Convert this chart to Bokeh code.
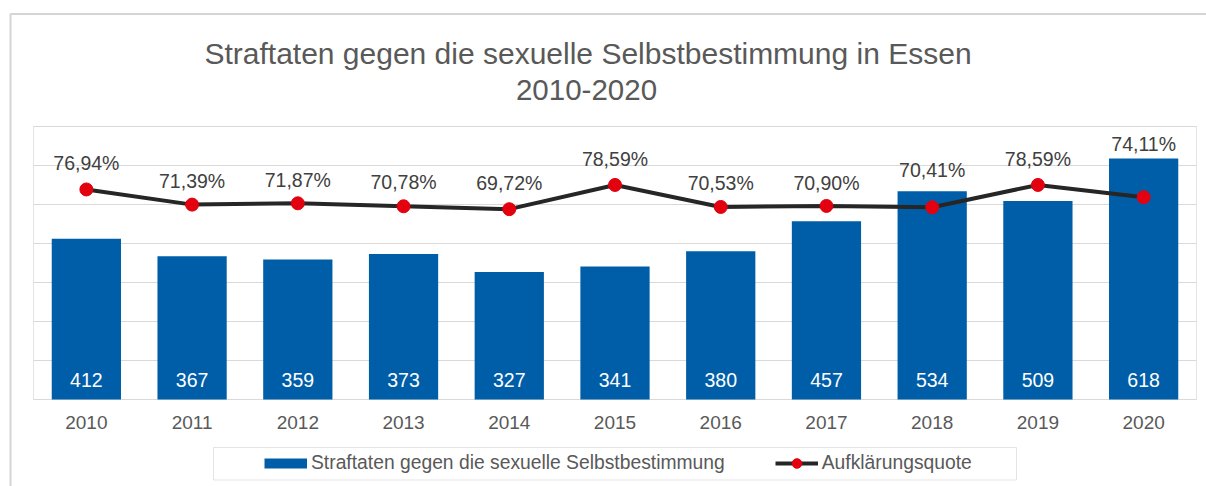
from bokeh.plotting import figure
from bokeh.models import (ColumnDataSource, Range1d, Label, Legend, LegendItem,
                          BoxAnnotation)
from bokeh.core.properties import value
from bokeh.embed import file_html
from bokeh.resources import INLINE

# ---- data ----
years = [2010, 2011, 2012, 2013, 2014, 2015, 2016, 2017, 2018, 2019, 2020]
cases = [412, 367, 359, 373, 327, 341, 380, 457, 534, 509, 618]
clearance = [76.94, 71.39, 71.87, 70.78, 69.72, 78.59, 70.53, 70.90, 70.41, 78.59, 74.11]
grid_ticks = [0, 100, 200, 300, 400, 500, 600, 700]
bar_name = "Straftaten gegen die sexuelle Selbstbestimmung"
line_name = "Aufklärungsquote"
title_1 = "Straftaten gegen die sexuelle Selbstbestimmung in Essen"
title_2 = "2010-2020"

# label nudges (pixels above point)
label_lift = [26, 24, 23, 24, 26, 26, 24, 23, 37, 26, 53]

FONT = "Liberation Sans"
BLUE = "#005EA8"
RED = "#E3000F"
NAN = float("nan")

W, H = 1206, 486
# plot area inside the canvas (pixels)
PL, PR, PT, PB = 33, 1196, 126, 399
n = len(years)
xu = (PR - PL) / n                      # px per year
x0, x1 = years[0] - 0.5, years[-1] + 0.5
ymax = grid_ticks[-1]
yu = (PB - PT) / ymax                   # px per case
pu = (PB - PT) / 100.0                  # px per percent

src = ColumnDataSource(dict(
    year=years,
    year_txt=[str(y) for y in years],
    cases=cases,
    case_txt=[str(c) for c in cases],
    pct=clearance,
    pct_txt=[f"{v:.2f}".replace(".", ",") + "%" for v in clearance],
    lift=[-l for l in label_lift],
))

p = figure(width=W, height=H,
           x_range=Range1d(x0 - PL / xu, x1 + (W - PR) / xu),
           y_range=Range1d(-(H - PB) / yu, ymax + PT / yu),
           output_backend="svg", toolbar_location=None,
           x_axis_location=None, y_axis_location=None,
           min_border=0, min_border_left=0, min_border_right=0,
           min_border_top=0, min_border_bottom=0)
p.extra_y_ranges = {"pct": Range1d(-(H - PB) / pu, 100 + PT / pu)}
p.grid.visible = False
p.outline_line_color = None
p.background_fill_color = "white"
p.border_fill_color = "white"

# plot area frame
p.add_layout(BoxAnnotation(left=x0, right=x1, bottom=0, top=ymax,
                           fill_alpha=0, line_color="#a6a6a6", line_width=1,
                           level="underlay"))

# horizontal gridlines
p.segment(x0=[x0] * len(grid_ticks), x1=[x1] * len(grid_ticks),
          y0=grid_ticks, y1=grid_ticks, line_color="#d9d9d9", line_width=1)

p.vbar(x="year", top="cases", width=0.655, source=src,
       fill_color=BLUE, line_color=None)

p.text(x="year", y=0, text="case_txt", source=src, y_offset=-20,
       text_align="center", text_baseline="middle", text_color="white",
       text_font=value(FONT), text_font_size="19.5px")

# category labels
p.text(x="year", y=0, text="year_txt", source=src, y_offset=23,
       text_align="center", text_baseline="middle", text_color="#595959",
       text_font=value(FONT), text_font_size="19px")

ln = p.line(x="year", y="pct", source=src, y_range_name="pct",
            line_color="#262626", line_width=4)
pts = p.scatter(x="year", y="pct", source=src, y_range_name="pct",
                size=13, fill_color=RED, line_color=RED)

p.text(x="year", y="pct", text="pct_txt", source=src, y_range_name="pct",
       y_offset="lift", text_align="center", text_baseline="middle",
       text_color="#404040", text_font=value(FONT), text_font_size="19.5px")

# legend proxy for the bar (thick line draws a flat rectangle); no visible data
proxy = p.line(x=[years[0], years[0]], y=[NAN, NAN], line_color=BLUE,
               line_width=10, line_cap="butt")

# legend frame
p.add_layout(BoxAnnotation(left=213, right=1016, top=H - 447, bottom=H - 479.5,
                           left_units="screen", right_units="screen",
                           top_units="screen", bottom_units="screen",
                           fill_color="white", fill_alpha=1,
                           line_color="#a6a6a6", line_width=1))

legend = Legend(items=[LegendItem(label=bar_name, renderers=[proxy]),
                       LegendItem(label=line_name, renderers=[ln, pts])],
                orientation="horizontal", location=(264, H - 475),
                padding=0, margin=0, spacing=50, glyph_width=43, glyph_height=24,
                label_height=24, label_standoff=4,
                label_text_font=FONT, label_text_font_size="19.3px",
                label_text_color="#595959",
                border_line_alpha=0, background_fill_alpha=0)
p.add_layout(legend, "center")

# outer chart frame
p.add_layout(BoxAnnotation(left=10, right=W + 200, top=H - 13.5, bottom=-200,
                           left_units="screen", right_units="screen",
                           top_units="screen", bottom_units="screen",
                           fill_alpha=0, line_color="#737373", line_width=2))

# title
for txt, cx, base, fs in ((title_1, 587.5, 53, "30px"), (title_2, 586, 89, "29.5px")):
    p.add_layout(Label(x=cx, y=H - base, x_units="screen", y_units="screen",
                       text=txt, text_align="center", text_baseline="alphabetic",
                       text_font=FONT, text_font_size=fs,
                       text_color="#595959"))

open("out.html", "w").write(file_html(p, INLINE))
